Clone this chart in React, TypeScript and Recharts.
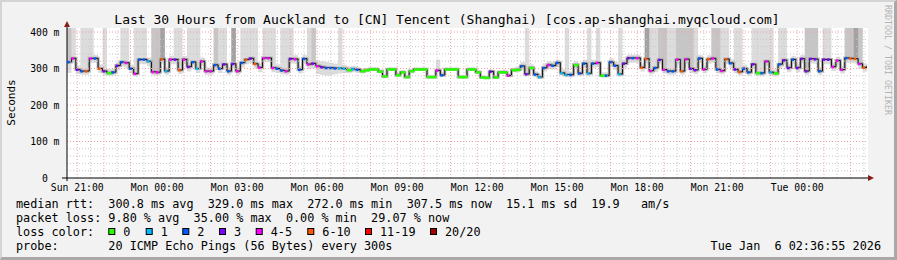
import React from 'react';
import { ComposedChart, Area, Line, XAxis, YAxis, ReferenceLine } from 'recharts';

const W = 897;
const H = 260;
const PLOT_L = 67;
const PLOT_R = 867;
const PLOT_T = 28;
const PLOT_B = 178;
const STEP_MIN = 10;
const SPAN_MIN = 1800;
const Y_MAX = 411;
const FIRST_TICK_MIN = 23 + 5 / 60; // Sun 21:00 after start (Sun 20:36:55)
const FONT = '"DejaVu Sans Mono", monospace';

const titleText = 'Last 30 Hours from Auckland to [CN] Tencent (Shanghai) [cos.ap-shanghai.myqcloud.com]';

// median rtt in ms, one value every 10 minutes
const medianRtt = [
  318, 328, 297, 293, 293, 328, 328, 300, 293, 288,
  290, 308, 318, 316, 300, 286, 325, 325, 320, 291,
  290, 326, 293, 325, 325, 296, 325, 305, 318, 300,
  320, 293, 293, 310, 300, 312, 293, 313, 293, 316,
  325, 328, 313, 303, 329, 329, 302, 300, 295, 293,
  327, 326, 297, 327, 312, 314, 307, 304, 302, 302,
  301, 301, 300, 296, 299, 297, 293, 296, 298, 298,
  292, 279, 298, 298, 282, 290, 277, 293, 298, 298,
  298, 277, 277, 295, 282, 298, 298, 298, 277, 277,
  298, 298, 290, 276, 275, 292, 276, 290, 290, 281,
  296, 297, 307, 285, 302, 284, 277, 302, 310, 308,
  316, 288, 283, 283, 310, 287, 314, 287, 314, 316,
  281, 281, 318, 308, 285, 314, 329, 329, 329, 303,
  327, 294, 302, 324, 297, 293, 293, 325, 293, 326,
  300, 296, 328, 298, 326, 328, 298, 294, 326, 315,
  298, 291, 300, 290, 312, 288, 288, 320, 290, 287,
  312, 323, 302, 325, 302, 327, 293, 327, 326, 293,
  325, 325, 305, 322, 297, 329, 328, 327, 313, 303,
  307.5,
];

// loss class index per point (0 = "0", 1 = "1", 2 = "2", 3 = "3", 4 = "4-5", 5 = "6-10"), -1 = none
const lossClass = [
  2, 4, 3, 2, 5, 4, 2, 5, 3, 0,
  2, 3, 2, 4, 2, 4, 2, 2, 1, 4,
  4, 5, 1, 4, 3, 5, 4, 3, 2, 1,
  4, 4, 4, 2, 2, 3, 2, 3, 4, 2,
  5, 3, 5, 4, 4, 4, 4, 2, 2, 4,
  3, 4, 2, 2, 4, 3, 4, 3, 2, 2,
  2, 1, 1, 0, 1, 2, 0, 0, 0, 0,
  0, 0, 0, 0, 0, 0, 0, 0, 0, 0,
  0, 0, 0, 4, 2, 0, 0, 0, 0, 0,
  0, 0, 0, 0, 0, 3, 0, 0, 0, 4,
  0, 0, 2, 3, 0, 2, 1, 2, 4, 2,
  2, 1, 1, 2, 0, 2, 2, 1, 2, 4,
  0, 2, 2, 2, 1, 3, 3, 2, 4, 5,
  5, 4, 2, 3, 4, 2, 2, 4, 5, 4,
  3, 3, 2, 4, 5, 4, 2, 4, 5, 2,
  3, 5, 2, 2, 3, 0, 2, 4, 1, 0,
  2, 3, 3, 2, 3, 3, 3, 3, 3, 2,
  3, 3, 4, 4, 4, 2, 5, 5, 4, 5,
  -1,
];

// highest ping of each point (411 = beyond the top of the graph)
const pingHigh = [
  411, 411, 308, 411, 411, 411, 337, 312, 411, 298,
  300, 318, 411, 411, 310, 411, 411, 411, 330, 411,
  411, 411, 303, 335, 411, 411, 334, 411, 411, 411,
  330, 303, 303, 411, 411, 411, 303, 411, 303, 411,
  411, 411, 411, 314, 411, 411, 411, 312, 411, 411,
  411, 336, 308, 337, 411, 411, 322, 320, 318, 316,
  314, 411, 310, 306, 307, 305, 300, 302, 303, 303,
  298, 284, 302, 302, 288, 295, 282, 297, 302, 302,
  302, 281, 281, 325, 290, 302, 302, 302, 281, 281,
  302, 302, 295, 280, 279, 297, 281, 295, 296, 288,
  303, 305, 318, 411, 312, 292, 286, 312, 320, 318,
  325, 298, 411, 292, 320, 296, 324, 411, 324, 411,
  290, 290, 328, 318, 411, 324, 338, 338, 338, 314,
  411, 411, 411, 411, 411, 411, 411, 411, 411, 411,
  411, 411, 337, 308, 336, 411, 411, 411, 411, 325,
  411, 411, 310, 300, 411, 411, 411, 411, 411, 297,
  411, 411, 312, 335, 312, 337, 411, 411, 411, 303,
  411, 411, 316, 332, 308, 411, 411, 411, 411, 314,
  317,
];

// lowest ping of each point
const pingLow = [
  288, 315, 285, 283, 283, 316, 316, 288, 282, 280,
  281, 295, 305, 302, 288, 278, 312, 312, 306, 281,
  281, 313, 283, 312, 312, 285, 312, 292, 305, 288,
  307, 283, 283, 296, 288, 298, 283, 300, 283, 303,
  312, 315, 300, 290, 317, 317, 290, 288, 284, 283,
  314, 313, 286, 314, 298, 300, 285, 282, 280, 282,
  284, 286, 288, 287, 290, 289, 287, 290, 293, 293,
  287, 275, 294, 294, 278, 285, 273, 289, 294, 294,
  294, 273, 273, 290, 277, 294, 294, 294, 273, 273,
  294, 294, 285, 272, 271, 286, 272, 285, 285, 276,
  290, 290, 296, 278, 292, 277, 272, 292, 298, 297,
  304, 280, 276, 276, 298, 279, 302, 279, 302, 304,
  275, 275, 305, 296, 278, 302, 316, 316, 316, 292,
  314, 284, 290, 311, 286, 283, 283, 312, 283, 313,
  288, 285, 315, 287, 313, 315, 287, 284, 313, 302,
  287, 281, 289, 280, 299, 279, 279, 307, 280, 278,
  299, 310, 290, 312, 290, 314, 283, 314, 313, 283,
  312, 312, 293, 309, 286, 316, 315, 314, 300, 291,
  296,
];

// how many pings went off the top (0 none, 1 one, 2 several, 3 many)
const tallShade = [
  2, 1, 0, 1, 1, 1, 0, 0, 1, 0,
  0, 0, 1, 1, 0, 1, 1, 1, 0, 2,
  2, 3, 0, 0, 1, 1, 0, 1, 1, 1,
  0, 0, 0, 2, 1, 1, 0, 3, 0, 1,
  1, 1, 1, 0, 1, 1, 1, 0, 1, 1,
  1, 0, 0, 0, 1, 2, 0, 0, 0, 0,
  0, 1, 0, 0, 0, 0, 0, 0, 0, 0,
  0, 0, 0, 0, 0, 0, 0, 0, 0, 0,
  0, 0, 0, 0, 0, 0, 0, 0, 0, 0,
  0, 0, 0, 0, 0, 0, 0, 0, 0, 0,
  0, 0, 0, 1, 0, 0, 0, 0, 0, 0,
  0, 0, 1, 0, 0, 0, 0, 1, 0, 1,
  0, 0, 0, 0, 1, 0, 0, 0, 0, 0,
  3, 1, 1, 2, 2, 1, 1, 2, 2, 2,
  2, 1, 0, 0, 0, 2, 2, 1, 1, 0,
  1, 1, 0, 0, 1, 1, 1, 1, 1, 0,
  1, 1, 0, 0, 0, 0, 2, 2, 2, 0,
  1, 1, 0, 0, 0, 2, 2, 3, 2, 0,
  0,
];

const lossColors = ['#26ff00', '#00b8ff', '#0059ff', '#7e00ff', '#ff00ff', '#ff5500', '#ff0000', '#a10000'];
const lossLabels = ['0', '1', '2', '3', '4-5', '6-10', '11-19', '20/20'];
const lossLabelX = [123.3, 160.7, 197.3, 234, 270.7, 322.3, 380, 445];

const xTickLabels = ['Sun 21:00', 'Mon 00:00', 'Mon 03:00', 'Mon 06:00', 'Mon 09:00', 'Mon 12:00', 'Mon 15:00', 'Mon 18:00', 'Mon 21:00', 'Tue 00:00'];
const yTicks = [0, 100, 200, 300, 400];
const yTickLabels = ['0', '100 m', '200 m', '300 m', '400 m'];

const legendRow1 = 'median rtt:  300.8 ms avg  329.0 ms max  272.0 ms min  307.5 ms now  15.1 ms sd  19.9   am/s';
const legendRow2 = 'packet loss: 9.80 % avg  35.00 % max  0.00 % min  29.07 % now';
const legendRow3 = 'loss color:';
const legendRow4 = 'probe:       20 ICMP Echo Pings (56 Bytes) every 300s';
const dateText = 'Tue Jan  6 02:36:55 2026';

const xTicks = xTickLabels.map((_, k) => FIRST_TICK_MIN + 180 * k);
const xMajorGrid: number[] = [];
const xMinorGrid: number[] = [];
for (let m = FIRST_TICK_MIN; m < SPAN_MIN; m += 30) {
  if (Math.round((m - FIRST_TICK_MIN) / 30) % 2 === 0) xMajorGrid.push(m);
  else xMinorGrid.push(m);
}
const yMajorGrid = [100, 200, 300, 400];
const yMinorGrid: number[] = [];
for (let v = 20; v < 400; v += 20) if (v % 100 !== 0) yMinorGrid.push(v);

const rows = medianRtt.map((m, i) => ({
  t: i * STEP_MIN,
  med: m,
  loss: lossClass[i],
  smoke: [pingLow[i], pingHigh[i]],
  mid: [m, tallShade[i] >= 2 ? Y_MAX : m],
  dark: [m, tallShade[i] >= 3 ? Y_MAX : m],
}));

const STEP_PX = ((PLOT_R - PLOT_L) * STEP_MIN) / SPAN_MIN;

function renderLossDot(props: any) {
  const { cx, cy, index, payload } = props;
  const cls = payload ? payload.loss : -1;
  if (cls == null || cls < 0 || cx == null || cy == null) return <g key={`d${index}`} />;
  const w = cls === 0 ? STEP_PX + 0.4 : 2.5;
  return <rect key={`d${index}`} x={cx} y={cy - 1} width={w} height={2.5} fill={lossColors[cls]} />;
}

function XTick(props: any) {
  const { x, payload } = props;
  const idx = xTicks.findIndex((v) => Math.abs(v - payload.value) < 0.01);
  return (
    <text x={x} y={PLOT_B + 12.5} textAnchor="middle" fontFamily={FONT} fontSize={9.75} fill="#000">
      {idx >= 0 ? xTickLabels[idx] : ''}
    </text>
  );
}

function YTick(props: any) {
  const { y, payload } = props;
  const idx = yTicks.indexOf(payload.value);
  const x = payload.value === 0 ? 59.5 - 2 * 5.87 : 59.5;
  return (
    <text x={x} y={y + 3.5} textAnchor="end" fontFamily={FONT} fontSize={9.75} fill="#000">
      {idx >= 0 ? yTickLabels[idx] : ''}
    </text>
  );
}

export default function App() {
  return (
    <div style={{ position: 'absolute', left: 0, top: 0, width: W, height: H, background: '#f2f2f2', overflow: 'hidden' }}>
      <div
        style={{
          position: 'absolute', left: 0, top: 0, width: W, height: H, boxSizing: 'border-box',
          borderTop: '2px solid #d4d4d4', borderLeft: '2px solid #d4d4d4',
          borderRight: '3px solid #a8a8a8', borderBottom: '3px solid #a8a8a8',
        }}
      />
      <div style={{ position: 'absolute', left: PLOT_L, top: PLOT_T, width: PLOT_R - PLOT_L + 1, height: PLOT_B - PLOT_T, background: '#ffffff' }} />
      <div style={{ position: 'absolute', left: 0, top: 0 }}>
        <ComposedChart width={W} height={H} data={rows} margin={{ top: PLOT_T, right: W - PLOT_R, bottom: 0, left: 0 }}>
          <XAxis
            type="number"
            dataKey="t"
            domain={[0, SPAN_MIN]}
            ticks={xTicks}
            tick={<XTick />}
            tickLine={false}
            axisLine={{ stroke: '#000', strokeWidth: 1 }}
            height={H - PLOT_B}
            allowDataOverflow
            interval={0}
          />
          <YAxis
            type="number"
            domain={[0, Y_MAX]}
            ticks={yTicks}
            tick={<YTick />}
            tickLine={false}
            axisLine={{ stroke: '#000', strokeWidth: 1 }}
            width={PLOT_L}
            allowDataOverflow
            interval={0}
          />
          <Area type="stepAfter" dataKey="smoke" fill="#dcdcdc" fillOpacity={1} stroke="none" isAnimationActive={false} />
          <Area type="stepAfter" dataKey="mid" fill="#c6c6c6" fillOpacity={1} stroke="none" isAnimationActive={false} />
          <Area type="stepAfter" dataKey="dark" fill="#a2a2a2" fillOpacity={1} stroke="none" isAnimationActive={false} />
          <Line type="stepAfter" dataKey="med" stroke="#b0b0b0" strokeWidth={3} dot={false} activeDot={false} isAnimationActive={false} />
          <Line type="stepAfter" dataKey="med" stroke="#111111" strokeWidth={1} dot={renderLossDot} activeDot={false} isAnimationActive={false} />
          {yMinorGrid.map((v) => (
            <ReferenceLine key={`ym${v}`} y={v} stroke="#c8c8c8" strokeDasharray="1 2" />
          ))}
          {xMinorGrid.map((v) => (
            <ReferenceLine key={`xm${v}`} x={v} stroke="#c8c8c8" strokeDasharray="1 2" />
          ))}
          {yMajorGrid.map((v) => (
            <ReferenceLine key={`yM${v}`} y={v} stroke="#f2a0a0" strokeDasharray="1 2" />
          ))}
          {xMajorGrid.map((v) => (
            <ReferenceLine key={`xM${v}`} x={v} stroke="#f2a0a0" strokeDasharray="1 2" />
          ))}
        </ComposedChart>
      </div>
      <svg width={W} height={H} style={{ position: 'absolute', left: 0, top: 0, pointerEvents: 'none' }}>
        <text x={447} y={23.5} textAnchor="middle" fontFamily={FONT} fontSize={13} fill="#000">{titleText}</text>
        <text transform="translate(14.5,102.5) rotate(-90)" textAnchor="middle" fontFamily={FONT} fontSize={11} fill="#000">Seconds</text>
        <text transform="translate(885,5) rotate(90)" fontFamily={FONT} fontSize={8.3} fill="#b4b4b4">RRDTOOL / TOBI OETIKER</text>
        <line x1={62} y1={PLOT_B} x2={PLOT_L} y2={PLOT_B} stroke="#000" />
        <line x1={PLOT_L} y1={PLOT_B} x2={PLOT_L} y2={PLOT_B + 3} stroke="#000" />
        <line x1={PLOT_L} y1={PLOT_T} x2={PLOT_L} y2={25} stroke="#000" />
        <line x1={PLOT_R} y1={PLOT_B} x2={870} y2={PLOT_B} stroke="#000" />
        <polygon points={`${PLOT_L - 3},27 ${PLOT_L + 3},27 ${PLOT_L},21`} fill="#8b1a1a" />
        <polygon points={`868,${PLOT_B - 3} 868,${PLOT_B + 3} 874,${PLOT_B}`} fill="#8b1a1a" />
        <g fontFamily={FONT} fontSize={11.8} fill="#000">
          <text x={16} y={208} xmlSpace="preserve" style={{ whiteSpace: 'pre' }}>{legendRow1}</text>
          <text x={16} y={222} xmlSpace="preserve" style={{ whiteSpace: 'pre' }}>{legendRow2}</text>
          <text x={16} y={236} xmlSpace="preserve" style={{ whiteSpace: 'pre' }}>{legendRow3}</text>
          {lossLabels.map((lab, k) => (
            <g key={lab}>
              <rect x={lossLabelX[k] - 14.5} y={228.5} width={6} height={6} fill={lossColors[k]} stroke="#000" strokeWidth={1} />
              <text x={lossLabelX[k]} y={236}>{lab}</text>
            </g>
          ))}
          <text x={16} y={250} xmlSpace="preserve" style={{ whiteSpace: 'pre' }}>{legendRow4}</text>
          <text x={881} y={250} textAnchor="end" xmlSpace="preserve" style={{ whiteSpace: 'pre' }}>{dateText}</text>
        </g>
      </svg>
    </div>
  );
}
